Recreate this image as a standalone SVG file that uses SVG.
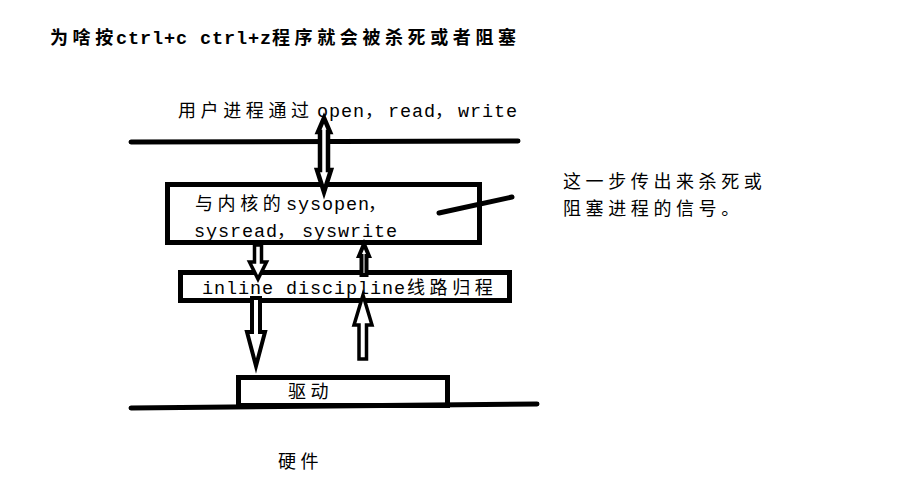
<svg xmlns="http://www.w3.org/2000/svg" width="897" height="503" viewBox="0 0 897 503">
<style>
.cjk{font-family:"Noto Sans CJK SC","Noto Sans",sans-serif;font-size:18px;letter-spacing:4.6px;fill:#000}
.lat{font-family:"Liberation Mono","DejaVu Sans Mono",monospace;font-size:18.5px;letter-spacing:0.9px;fill:#000}
.title tspan{font-weight:bold}
.box{fill:none;stroke:#000;stroke-width:5}
.line{fill:none;stroke:#000;stroke-width:5;stroke-linecap:round}
.arrow{fill:#fff;stroke:#000;stroke-width:3.5;stroke-linejoin:miter}
</style>
<rect width="897" height="503" fill="#fff"/>
<g id="title">
<text class="title" y="44"><tspan class="cjk" x="50">为啥按</tspan><tspan class="lat" x="116">ctrl+c ctrl+z</tspan><tspan class="cjk" x="272">程序就会被杀死或者阻塞</tspan></text>
</g>
<g id="user-process">
<text y="117"><tspan class="cjk" x="178">用户进程通过</tspan><tspan class="lat" x="317">open</tspan><tspan class="cjk" x="365">，</tspan><tspan class="lat" x="388">read</tspan><tspan class="cjk" x="435">，</tspan><tspan class="lat" x="458">write</tspan></text>
</g>
<g id="kernel-syscalls">
<rect class="box" x="167.5" y="184.5" width="312" height="58"/>
<text y="210"><tspan class="cjk" x="195">与内核的</tspan><tspan class="lat" x="286">sysopen</tspan><tspan class="cjk" x="368">，</tspan></text>
<text y="237"><tspan class="lat" x="194">sysread</tspan><tspan class="cjk" x="277">，</tspan><tspan class="lat" x="302">syswrite</tspan></text>
</g>
<g id="line-discipline">
<rect class="box" x="180.5" y="272.5" width="329" height="28"/>
<text y="294"><tspan class="lat" x="202">inline discipline</tspan><tspan class="cjk" x="407">线路归程</tspan></text>
</g>
<g id="driver">
<rect class="box" x="238.5" y="377.5" width="209" height="28"/>
<text class="cjk" x="288" y="398">驱动</text>
</g>
<g id="hardware">
<text class="cjk" x="278" y="468">硬件</text>
</g>
<g id="signal-note">
<text class="cjk" x="563" y="188">这一步传出来杀死或</text>
<text class="cjk" x="563" y="215">阻塞进程的信号。</text>
</g>
<g id="connectors">
<line class="line" x1="131" y1="142" x2="518" y2="141"/>
<line class="line" x1="131" y1="408" x2="537" y2="404"/>
<line class="line" x1="439" y1="213" x2="512" y2="197"/>
<polygon class="arrow" style="stroke-width:4.5" points="324,118 330,132 328,132 328,170 331,170 324,192 317,170 320,170 320,132 318,132"/>
<polygon class="arrow" points="254.5,245 254.5,262 249.5,262 258,279 266.5,262 261.5,262 261.5,245"/>
<polygon class="arrow" style="stroke-width:4" points="252,298 252,332 247,332 256,366 265,332 260,332 260,298"/>
<polygon class="arrow" points="359,359 359,325 354,325 363,295 372,325 366.5,325 366.5,359"/>
<polygon class="arrow" style="stroke-width:4" points="361.5,275 361.5,256 359,256 364,244 369,256 366.5,256 366.5,275"/>
</g>
</svg>
